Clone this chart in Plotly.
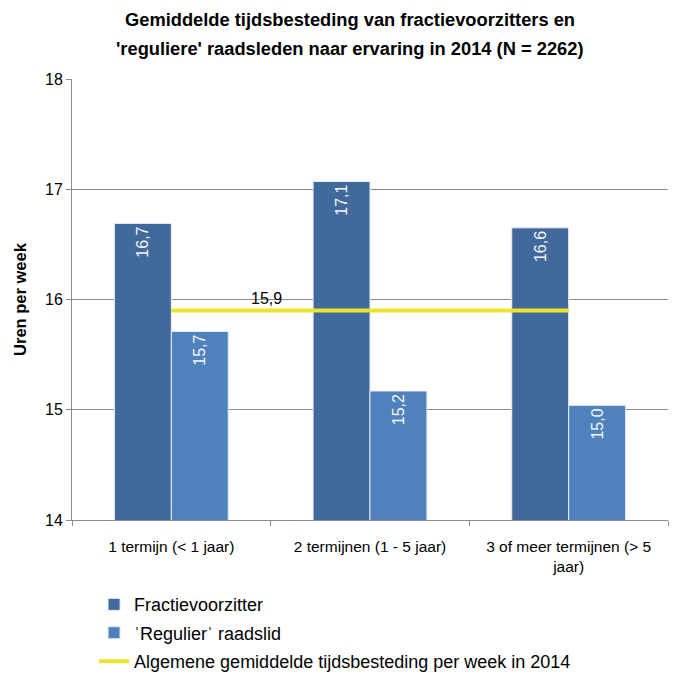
import plotly.graph_objects as go

categories = ["1 termijn (< 1 jaar)", "2 termijnen (1 - 5 jaar)", "3 of meer termijnen (> 5<br>jaar)"]
fractievoorzitter = [16.69, 17.07, 16.65]
regulier = [15.71, 15.17, 15.04]
algemeen = [15.9, 15.9, 15.9]
y_ticks = [14, 15, 16, 17, 18]
title_lines = ["Gemiddelde tijdsbesteding van fractievoorzitters en",
               "'reguliere' raadsleden naar ervaring in 2014 (N = 2262)"]

FONT = "Liberation Sans"

fig = go.Figure()
fig.add_trace(go.Bar(
    x=categories, y=fractievoorzitter, name="Fractievoorzitter", legendgroup="a",
    marker=dict(color="#41699B", line=dict(color="#E8ECF2", width=1)),
    texttemplate="%{y:.1f}", textposition="inside", insidetextanchor="end",
    textangle=-90, textfont=dict(color="#F4F6FA", size=16, family=FONT),
))
fig.add_trace(go.Bar(
    x=categories, y=regulier, name="ˈRegulierˈ raadslid", legendgroup="b",
    marker=dict(color="#4F81BD", line=dict(color="#E8ECF2", width=1)),
    texttemplate="%{y:.1f}", textposition="inside", insidetextanchor="end",
    textangle=-90, textfont=dict(color="#F4F6FA", size=16, family=FONT),
))
fig.add_trace(go.Scatter(
    x=categories, y=algemeen, mode="lines", legendgroup="c",
    name="Algemene gemiddelde tijdsbesteding per week in 2014",
    line=dict(color="#ECE52C", width=4),
))
fig.add_annotation(x=0.48, y=algemeen[0], xref="x", yref="y", text="15,9",
                   showarrow=False, yanchor="bottom", yshift=2,
                   font=dict(size=16, color="black", family=FONT))
for i, (line, ypos) in enumerate(zip(title_lines, [1.134, 1.070])):
    fig.add_annotation(x=0.466, y=ypos, xref="paper", yref="paper", text="<b>" + line + "</b>",
                       showarrow=False, xanchor="center", yanchor="middle",
                       font=dict(size=18.3, color="black", family=FONT))

fig.update_layout(
    width=670, height=666,
    margin=dict(l=64, r=10, t=71, b=154, autoexpand=False),
    paper_bgcolor="white", plot_bgcolor="white",
    separators=",.",
    barmode="group", bargap=0.427, bargroupgap=0,
    font=dict(family=FONT, size=15, color="black"),
    showlegend=True,
    legend=dict(orientation="v", x=0.037, xanchor="left", y=-0.15, yanchor="top",
                font=dict(size=18, family=FONT, color="black"), traceorder="grouped",
                tracegroupgap=2, bgcolor="rgba(0,0,0,0)"),
)
fig.update_yaxes(range=[14, 18], tickvals=y_ticks, ticktext=[str(v) for v in y_ticks],
                 showgrid=True, gridcolor="#8C8C8C", gridwidth=1,
                 showline=True, linecolor="#8C8C8C", linewidth=1,
                 ticks="outside", ticklen=5, tickcolor="#8C8C8C",
                 tickfont=dict(size=16), zeroline=False,
                 title=dict(text="<b>Uren per week</b>", font=dict(size=16.5), standoff=14))
fig.update_xaxes(showline=True, linecolor="#8C8C8C", linewidth=1,
                 ticks="outside", tickson="boundaries", ticklen=5, tickcolor="#8C8C8C",
                 ticklabelstandoff=12, tickfont=dict(size=15.5))

fig.write_html("out.html")
